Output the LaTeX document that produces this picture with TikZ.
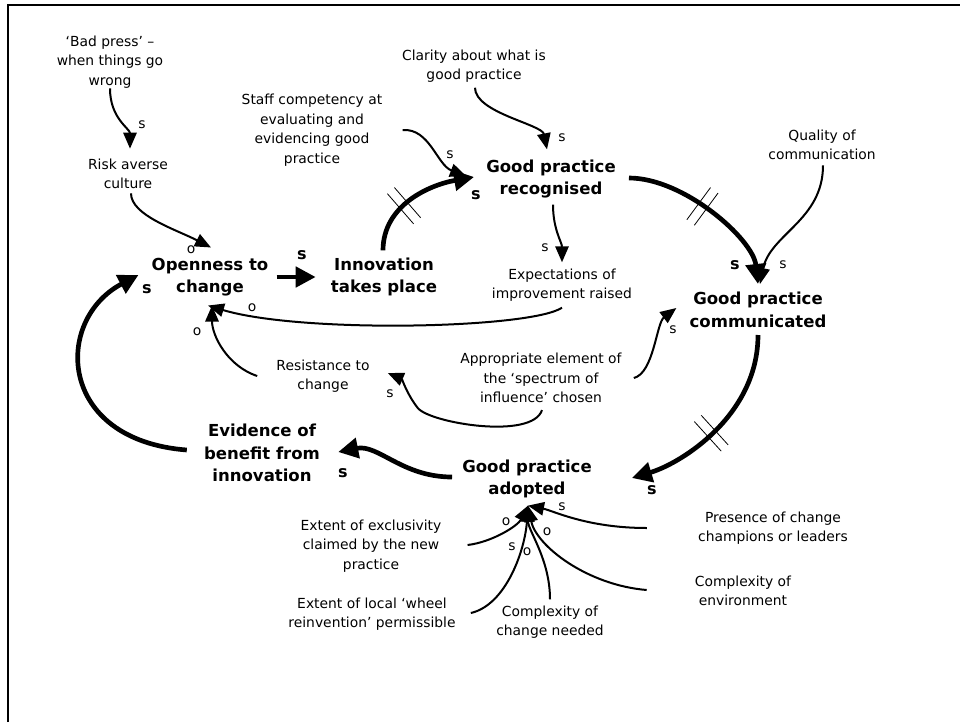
\documentclass[tikz,border=0pt]{standalone}
\usepackage{fontspec}
\setmainfont{DejaVu Sans}
\usetikzlibrary{calc,arrows.meta,decorations.markings}
\tikzset{
	txt/.style={font=\fontsize{10.4}{14.6}\selectfont, align=center, inner sep=0pt},
	var/.style={font=\fontsize{12.4}{17}\selectfont\bfseries, align=center, inner sep=0pt},
	pol/.style={font=\fontsize{10.4}{12}\selectfont, inner sep=0pt},
	bpol/.style={font=\fontsize{12}{14}\selectfont\bfseries, inner sep=0pt},
	link/.style={line width=1.5pt, -{Triangle[length=12pt,width=10pt]}},
	mainlink/.style={line width=3.5pt, -{Triangle[length=15pt,width=15pt]}},
	delay/.style={postaction={decorate, decoration={markings, mark=at position #1 with {\draw[-, line width=0.6pt] (-3.5pt,-15pt) -- (-3.5pt,15pt) (3.5pt,-15pt) -- (3.5pt,15pt);}}}}
}

\begin{document}
\begin{tikzpicture}[x=0.75pt,y=-0.75pt]
		\useasboundingbox (0,0) rectangle (960,722);
		%Frame
		\draw[line width=1.5pt] (8,722) -- (8,5) -- (960,5);
		%Main variables
		\node[var] (open) at (210,277) {Openness to\\change};
		\node[var] (innov) at (384,277) {Innovation\\takes place};
		\node[var] (recog) at (551,179) {Good practice\\recognised};
		\node[var] (comm) at (758,310) {Good practice\\communicated};
		\node[var] (adopt) at (527,479) {Good practice\\adopted};
		\node[var] (evid) at (262,453) {Evidence of\\benefit from\\innovation};
		%Other variables
		\node[txt] (bad) at (110,62) {‘Bad press’ –\\when things go\\wrong};
		\node[txt] (risk) at (128,174) {Risk averse\\culture};
		\node[txt] (staff) at (312,130) {Staff competency at\\evaluating and\\evidencing good\\practice};
		\node[txt] (clarity) at (474,66) {Clarity about what is\\good practice};
		\node[txt] (quality) at (822,145) {Quality of\\communication};
		\node[txt] (expect) at (562,285) {Expectations of\\improvement raised};
		\node[txt] (resist) at (323,376) {Resistance to\\change};
		\node[txt] (approp) at (541,378) {Appropriate element of\\the ‘spectrum of\\influence’ chosen};
		\node[txt] (exclus) at (371,546) {Extent of exclusivity\\claimed by the new\\practice};
		\node[txt] (wheel) at (372,614) {Extent of local ‘wheel\\reinvention’ permissible};
		\node[txt] (cchange) at (550,622) {Complexity of\\change needed};
		\node[txt] (champ) at (773,528) {Presence of change\\champions or leaders};
		\node[txt] (cenv) at (743,591) {Complexity of\\environment};
		%Main loop
		\draw[mainlink] ($(open.east)+(8,0)$) -- ($(innov.west)+(-15,0)$);
		\draw[mainlink, delay=0.4] ($(innov.north)+(-1,-7)$) .. controls +(0,-45) and +(-45,8) .. ($(recog.west)+(-12,-2)$);
		\draw[mainlink, delay=0.45] ($(recog.east)+(13,-1)$) .. controls +(55,0) and +(-5,-45) .. ($(comm.north)+(0,-8)$);
		\draw[mainlink, delay=0.55] ($(comm.south)+(0,7)$) .. controls +(0,80) and +(50,-15) .. ($(adopt.east)+(40,-1)$);
		\draw[mainlink] ($(adopt.west)+(-10,-2)$) .. controls +(-50,0) and +(40,-8) .. ($(evid.east)+(18,-1)$);
		\draw[mainlink] ($(evid.west)+(-17,-3)$) .. controls +(-130,-10) and +(-85,45) .. ($(open.west)+(-13,-2)$);
		%Side links
		\draw[link] (bad.south) .. controls +(0,30) and +(0,-20) .. ($(risk.north)+(2,-10)$);
		\draw[link] ($(risk.south)+(3,4)$) .. controls +(0,22) and +(-35,-18) .. ($(open.north)+(1,-10)$);
		\draw[link] ($(staff.east)+(20,0)$) .. controls +(27,-2) and +(-29,-11) .. ($(recog.west)+(-20,-3)$);
		\draw[link] ($(clarity.south)+(1,5)$) .. controls +(0,25) and +(-5,-25) .. ($(recog.north)+(-4,-10)$);
		\draw[link] ($(recog.south)+(2,6)$) .. controls +(0,25) and +(0,-20) .. ($(expect.north)+(0,-6)$);
		\draw[link] ($(expect.south)+(0,6)$) .. controls +(-32,21) and +(93,28) .. ($(open.south)+(-2,9)$);
		\draw[link] ($(resist.west)+(-19,0)$) .. controls +(-30,-10) and +(0,30) .. ($(open.south)+(2,9)$);
		\draw[link] ($(approp.south)+(1,7)$) .. controls +(-10,30) and +(12,15) .. ($(resist.east)+(48,32)$) .. controls +(-10,-12.5) and +(14,6) .. ($(resist.east)+(18,-3)$);
		\draw[link] ($(approp.east)+(12,0)$) .. controls +(20,-5) and +(-20,15) .. ($(comm.west)+(-13,-2)$);
		\draw[link] ($(quality.south)+(1,5)$) .. controls +(0,55) and +(10,-50) .. ($(comm.north)+(2,-8)$);
		%Links into adoption
		\draw[link] ($(exclus.east)+(26,-1)$) .. controls +(25,-3) and +(-10,20) .. ($(adopt.south)+(1,7)$);
		\draw[link] ($(wheel.east)+(15,-1)$) .. controls +(35,-8) and +(-3,45) .. ($(adopt.south)+(1,7)$);
		\draw[link] ($(cchange.north)+(0,-6)$) .. controls +(0,-40) and +(0,25) .. ($(adopt.south)+(1,7)$);
		\draw[link] ($(cenv.west)+(-48,-1)$) .. controls +(-60,-5) and +(8,40) .. ($(adopt.south)+(1,7)$);
		\draw[link] ($(champ.west)+(-51,0)$) .. controls +(-60,0) and +(25,5) .. ($(adopt.south)+(1,7)$);
		%Polarities
		\node[pol] (pBad) at (142,125) {s};
		\node[pol] (pRisk) at (191,250) {o};
		\node[pol] (pStaff) at (450,155) {s};
		\node[pol] (pClarity) at (562,138) {s};
		\node[pol] (pRecog) at (545,248) {s};
		\node[pol] (pExpect) at (252,308) {o};
		\node[pol] (pResist) at (197,332) {o};
		\node[pol] (pApprop) at (390,394) {s};
		\node[pol] (pApprop2) at (673,330) {s};
		\node[pol] (pQuality) at (783,265) {s};
		\node[pol] (pExclus) at (506,522) {o};
		\node[pol] (pChamp) at (562,507) {s};
		\node[pol] (pEnv) at (547,532) {o};
		\node[pol] (pWheel) at (512,547) {s};
		\node[pol] (pChange) at (527,552) {o};
		\node[bpol] (pOpen) at (302,255) {s};
		\node[bpol] (pInnov) at (476,195) {s};
		\node[bpol] (pRecog2) at (735,265) {s};
		\node[bpol] (pComm) at (652,490) {s};
		\node[bpol] (pAdopt) at (343,473) {s};
		\node[bpol] (pEvid) at (147,289) {s};
	\end{tikzpicture}
\end{document}
